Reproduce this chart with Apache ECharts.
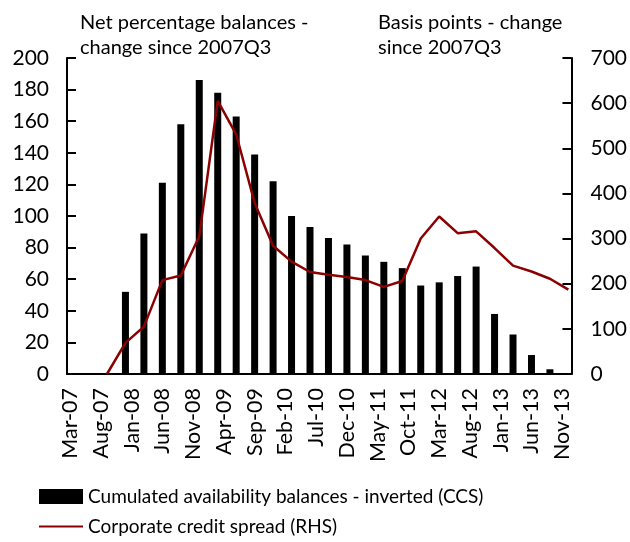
<!DOCTYPE html>
<html>
<head>
<meta charset="utf-8">
<script src="https://cdn.jsdelivr.net/npm/echarts@6/dist/echarts.min.js"></script>
<style>
  html, body { margin: 0; padding: 0; background: #fff; }
  #chart { width: 630px; height: 542px; }
</style>
</head>
<body>
<div id="chart"></div>
<script>
// monthly axis from Mar-07 to Dec-13, labelled every 5 months
const monthNames = ["Jan", "Feb", "Mar", "Apr", "May", "Jun", "Jul", "Aug", "Sep", "Oct", "Nov", "Dec"];
const firstYear = 2007;
const firstMonth = 2; // March
const monthCount = 82;

// quarterly observations
const quarters = [
  "Sep-07", "Dec-07", "Mar-08", "Jun-08", "Sep-08", "Dec-08", "Mar-09", "Jun-09", "Sep-09",
  "Dec-09", "Mar-10", "Jun-10", "Sep-10", "Dec-10", "Mar-11", "Jun-11", "Sep-11", "Dec-11",
  "Mar-12", "Jun-12", "Sep-12", "Dec-12", "Mar-13", "Jun-13", "Sep-13", "Dec-13"
];
const availability = [
  null, 52, 89, 121, 158, 186, 178, 163, 139,
  122, 100, 93, 86, 82, 75, 71, 67, 56,
  58, 62, 68, 38, 25, 12, 3, null
];
const creditSpread = [
  0, 69, 105, 208, 218, 305, 605, 531, 379,
  284, 249, 226, 220, 215, 208, 193, 206, 300,
  349, 312, 316, 279, 240, 227, 211, 187
];

const leftAxis = { min: 0, max: 200, interval: 20 };
const rightAxis = { min: 0, max: 700, interval: 100 };

const barName = "Cumulated availability balances - inverted (CCS)";
const lineName = "Corporate credit spread (RHS)";

const months = [];
for (let i = 0; i < monthCount; i++) {
  const m = firstMonth + i;
  const y = firstYear + Math.floor(m / 12);
  months.push(monthNames[m % 12] + "-" + String(y).slice(2));
}
function toMonthly(values) {
  const out = months.map(() => null);
  quarters.forEach((q, i) => { out[months.indexOf(q)] = values[i]; });
  return out;
}

const font = "Lato";
const legendText = { fontSize: 19, fontFamily: font, color: "#000" };

const chart = echarts.init(document.getElementById("chart"));
chart.setOption({
  animation: false,
  textStyle: { fontFamily: font, color: "#000" },
  grid: { left: 67, right: 54, top: 58, bottom: 168 },
  graphic: [
    {
      type: "text", left: 80, top: 10,
      style: { text: "Net percentage balances -\nchange since 2007Q3", font: "20px " + font, lineHeight: 25, fill: "#000" }
    },
    {
      type: "text", left: 378, top: 10,
      style: { text: "Basis points - change\nsince 2007Q3", font: "20px " + font, lineHeight: 25, fill: "#000" }
    }
  ],
  legend: [
    {
      left: 39, top: 487, padding: 0,
      itemWidth: 44, itemHeight: 15, itemGap: 4,
      textStyle: legendText,
      data: [{ name: barName, icon: "rect" }]
    },
    {
      left: 39, top: 517, padding: 0,
      itemWidth: 44, itemHeight: 15, itemGap: 4,
      textStyle: legendText,
      data: [{ name: lineName, icon: "path://M0,6.5 L44,6.5 L44,8.5 L0,8.5 Z" }]
    }
  ],
  xAxis: {
    type: "category",
    data: months,
    boundaryGap: true,
    axisLine: { lineStyle: { color: "#000", width: 2 } },
    axisTick: { interval: 4, length: 9, lineStyle: { color: "#000", width: 2 } },
    axisLabel: { interval: 4, rotate: 90, margin: 14, fontSize: 21.5, color: "#000" },
    splitLine: { show: false }
  },
  yAxis: [
    {
      type: "value",
      min: leftAxis.min, max: leftAxis.max, interval: leftAxis.interval,
      axisLine: { show: true, lineStyle: { color: "#000", width: 2 } },
      axisTick: { show: true, inside: true, length: 9, lineStyle: { color: "#000", width: 2 } },
      axisLabel: { margin: 18, fontSize: 21, color: "#000" },
      splitLine: { show: false }
    },
    {
      type: "value",
      position: "right",
      min: rightAxis.min, max: rightAxis.max, interval: rightAxis.interval,
      axisLine: { show: true, lineStyle: { color: "#000", width: 2 } },
      axisTick: { show: true, inside: true, length: 9, lineStyle: { color: "#000", width: 2 } },
      axisLabel: { margin: 19, fontSize: 21, color: "#000" },
      splitLine: { show: false }
    }
  ],
  series: [
    {
      name: barName,
      type: "bar",
      yAxisIndex: 0,
      data: toMonthly(availability),
      barWidth: 7,
      itemStyle: { color: "#000" }
    },
    {
      name: lineName,
      type: "line",
      yAxisIndex: 1,
      data: toMonthly(creditSpread),
      connectNulls: true,
      symbol: "none",
      lineStyle: { color: "#8b0000", width: 2.5 },
      itemStyle: { color: "#8b0000" }
    }
  ]
});
</script>
</body>
</html>
